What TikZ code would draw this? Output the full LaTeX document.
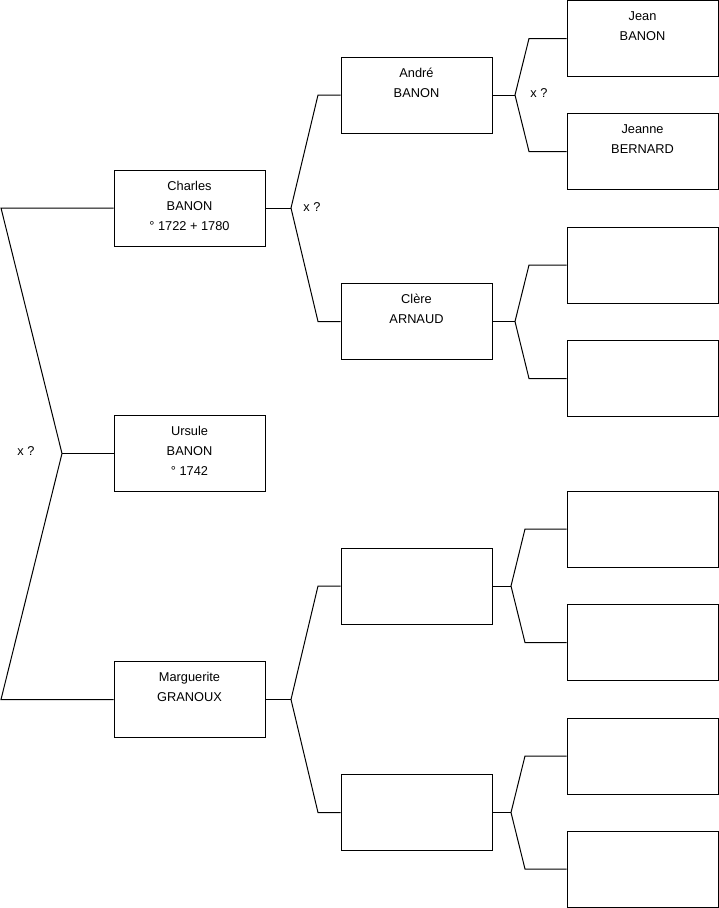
\documentclass[tikz,border=0pt]{standalone}
\usepackage{fontspec}
\setmainfont{Liberation Sans}
\begin{document}
\begin{tikzpicture}[x=1pt,y=-1pt,
  person/.style={draw=black, line width=1pt, minimum width=151pt, minimum height=76pt, inner sep=0pt},
  ptext/.style={anchor=north, align=center, inner sep=0pt, font=\fontsize{12.8}{20}\selectfont},
  xlab/.style={inner sep=0pt, font=\fontsize{12.8}{14}\selectfont},
  link/.style={draw=black, line width=1pt, line join=miter}]
\useasboundingbox (0,0) rectangle (719,908);
% column 1
\node[person] (charles) at (189.5,208) {};
\node[person] (ursule) at (189.5,453.5) {};
\node[person] (marg) at (189.5,699.5) {};
% column 2
\node[person] (andre) at (416.5,95) {};
\node[person] (clere) at (416.5,321.5) {};
\node[person] (e1) at (416.5,586) {};
\node[person] (e2) at (416.5,812.5) {};
% column 3
\node[person] (jean) at (642.5,38.5) {};
\node[person] (jeanne) at (642.5,151.5) {};
\node[person] (g3) at (642.5,265) {};
\node[person] (g4) at (642.5,378.5) {};
\node[person] (g5) at (642.5,529) {};
\node[person] (g6) at (642.5,642.5) {};
\node[person] (g7) at (642.5,756) {};
\node[person] (g8) at (642.5,869) {};
% texts
\node[ptext] at ([yshift=-6.5pt]charles.north) {\strut Charles\\BANON\\° 1722 + 1780};
\node[ptext] at ([yshift=-6.5pt]ursule.north) {\strut Ursule\\BANON\\° 1742};
\node[ptext] at ([yshift=-6.5pt]marg.north) {\strut Marguerite\\GRANOUX};
\node[ptext] at ([yshift=-6.5pt]andre.north) {\strut André\\BANON};
\node[ptext] at ([yshift=-6.5pt]clere.north) {\strut Clère\\ARNAUD};
\node[ptext] at ([yshift=-6.5pt]jean.north) {\strut Jean\\BANON};
\node[ptext] at ([yshift=-6.5pt]jeanne.north) {\strut Jeanne\\BERNARD};
% fork left
\coordinate (vL) at (62,453.5);
\coordinate (cLa) at (1,208);
\coordinate (cLb) at (1,699.5);
\draw[link] (charles.west) -- (cLa) -- (vL) -- (cLb) -- (marg.west);
\draw[link] (vL) -- (ursule.west);
\node[xlab] (xL) at (26,451.5) {x ?};
% fork Charles
\coordinate (vC) at (291,208);
\coordinate (cCa) at (318,95);
\coordinate (cCb) at (318,321.5);
\draw[link] (charles.east) -- (vC);
\draw[link] (andre.west) -- (cCa) -- (vC) -- (cCb) -- (clere.west);
\node[xlab] (xC) at (312,207) {x ?};
% fork Marguerite
\coordinate (vM) at (291,699.5);
\coordinate (cMa) at (318,586);
\coordinate (cMb) at (318,812.5);
\draw[link] (marg.east) -- (vM);
\draw[link] (e1.west) -- (cMa) -- (vM) -- (cMb) -- (e2.west);
% fork Andre
\coordinate (vA) at (515,95);
\coordinate (cAa) at (529,38.5);
\coordinate (cAb) at (529,151.5);
\draw[link] (andre.east) -- (vA);
\draw[link] (jean.west) -- (cAa) -- (vA) -- (cAb) -- (jeanne.west);
\node[xlab] (xA) at (539,93) {x ?};
% fork Clere
\coordinate (vK) at (515,321.5);
\coordinate (cKa) at (529,265);
\coordinate (cKb) at (529,378.5);
\draw[link] (clere.east) -- (vK);
\draw[link] (g3.west) -- (cKa) -- (vK) -- (cKb) -- (g4.west);
% fork e1
\coordinate (v1) at (511,586);
\coordinate (c1a) at (525,529);
\coordinate (c1b) at (525,642.5);
\draw[link] (e1.east) -- (v1);
\draw[link] (g5.west) -- (c1a) -- (v1) -- (c1b) -- (g6.west);
% fork e2
\coordinate (v2) at (511,812.5);
\coordinate (c2a) at (525,756);
\coordinate (c2b) at (525,869);
\draw[link] (e2.east) -- (v2);
\draw[link] (g7.west) -- (c2a) -- (v2) -- (c2b) -- (g8.west);
\end{tikzpicture}
\end{document}
